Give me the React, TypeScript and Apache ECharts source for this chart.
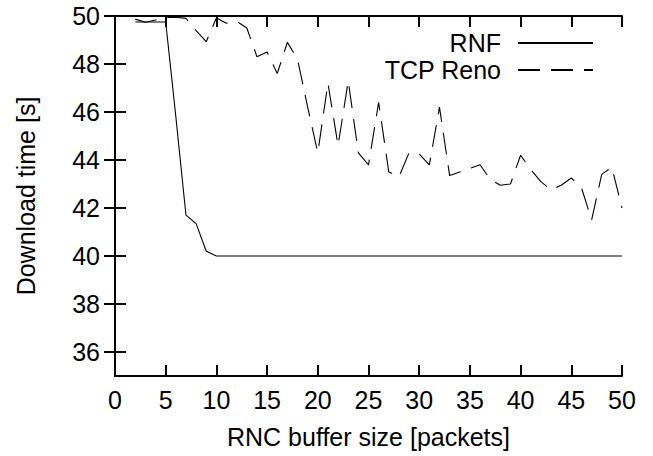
import React, { useEffect, useRef } from "react";
import * as echarts from "echarts";

const xValues = [2, 3, 4, 5, 6, 7, 8, 9, 10, 11, 12, 13, 14, 15, 16, 17, 18, 19, 20, 21, 22, 23, 24, 25, 26, 27, 28, 29, 30, 31, 32, 33, 34, 35, 36, 37, 38, 39, 40, 41, 42, 43, 44, 45, 46, 47, 48, 49, 50];
const rnfValues = [49.75, 49.75, 49.75, 49.75, 45.8, 41.7, 41.35, 40.2, 40.0, 40.0, 40.0, 40.0, 40.0, 40.0, 40.0, 40.0, 40.0, 40.0, 40.0, 40.0, 40.0, 40.0, 40.0, 40.0, 40.0, 40.0, 40.0, 40.0, 40.0, 40.0, 40.0, 40.0, 40.0, 40.0, 40.0, 40.0, 40.0, 40.0, 40.0, 40.0, 40.0, 40.0, 40.0, 40.0, 40.0, 40.0, 40.0, 40.0, 40.0];
const renoValues = [49.87, 49.74, 49.83, 49.94, 49.95, 49.9, 49.39, 48.93, 49.92, 49.7, 49.78, 49.5, 48.3, 48.5, 47.6, 48.9, 48.2, 46.2, 44.3, 47.2, 44.6, 47.3, 44.3, 43.8, 46.4, 43.5, 43.3, 44.3, 44.25, 43.8, 46.2, 43.35, 43.5, 43.65, 43.8, 43.2, 42.95, 43.0, 44.2, 43.6, 43.1, 42.75, 42.95, 43.25, 42.85, 41.5, 43.4, 43.7, 42.0];
const yTicks = [36, 38, 40, 42, 44, 46, 48, 50];
const seriesNames = ["RNF", "TCP Reno"];

const FONT = "'Liberation Sans', Arial, Helvetica, sans-serif";

export default function App() {
  const ref = useRef<HTMLDivElement>(null);
  useEffect(() => {
    if (!ref.current) return;
    const chart = echarts.init(ref.current, null, { renderer: "svg" });
    const axisLine = { show: true, lineStyle: { color: "#000", width: 2 } };
    const tick = { show: true, inside: true, length: 11, lineStyle: { color: "#000", width: 2 } };
    const labelStyle = { color: "#000", fontSize: 25, fontFamily: FONT };
    chart.setOption({
      animation: false,
      backgroundColor: "#fff",
      grid: { left: 115, right: 31, top: 16, bottom: 80, containLabel: false, outerBoundsMode: "none" },
      legend: {
        orient: "vertical",
        right: 54,
        top: 25,
        align: "right",
        itemWidth: 75,
        itemHeight: 14,
        itemGap: 1,
        data: seriesNames,
        itemStyle: { opacity: 0 },
        textStyle: { color: "#000", fontSize: 25, fontFamily: FONT, lineHeight: 26, padding: [0, 12, 0, 0] },
      },
      xAxis: [
        {
          type: "value",
          min: 0,
          max: 50,
          interval: 5,
          position: "bottom",
          axisLine,
          axisTick: tick,
          splitLine: { show: false },
          axisLabel: { ...labelStyle, margin: 11 },
          name: "RNC buffer size [packets]",
          nameLocation: "middle",
          nameGap: 48,
          nameTextStyle: labelStyle,
        },
        {
          type: "value",
          min: 0,
          max: 50,
          interval: 5,
          position: "top",
          axisLine,
          axisTick: tick,
          splitLine: { show: false },
          axisLabel: { show: false },
        },
      ],
      yAxis: [
        {
          type: "value",
          min: 35,
          max: 50,
          position: "left",
          axisLine,
          axisTick: { ...tick, customValues: yTicks },
          splitLine: { show: false },
          axisLabel: { ...labelStyle, margin: 15, customValues: yTicks },
          name: "Download time [s]",
          nameLocation: "middle",
          nameGap: 77,
          nameRotate: 90,
          nameTextStyle: labelStyle,
        },
        {
          type: "value",
          min: 35,
          max: 50,
          position: "right",
          axisLine,
          axisTick: { ...tick, customValues: yTicks },
          splitLine: { show: false },
          axisLabel: { show: false },
        },
      ],
      series: [
        {
          name: seriesNames[0],
          type: "line",
          xAxisIndex: 0,
          yAxisIndex: 0,
          data: xValues.map((x, i) => [x, rnfValues[i]]),
          symbol: "none",
          showSymbol: false,
          itemStyle: { color: "#000" },
          lineStyle: { color: "#000", width: 1.1, type: "solid" },
        },
        {
          name: seriesNames[1],
          type: "line",
          xAxisIndex: 0,
          yAxisIndex: 0,
          data: xValues.map((x, i) => [x, renoValues[i]]),
          symbol: "none",
          showSymbol: false,
          itemStyle: { color: "#000" },
          lineStyle: { color: "#000", width: 1.1, type: [22, 11] },
        },
      ],
    });
    return () => chart.dispose();
  }, []);
  return (
    <div
      ref={ref}
      style={{ position: "fixed", left: 0, top: 0, width: 653, height: 456, background: "#fff" }}
    />
  );
}
